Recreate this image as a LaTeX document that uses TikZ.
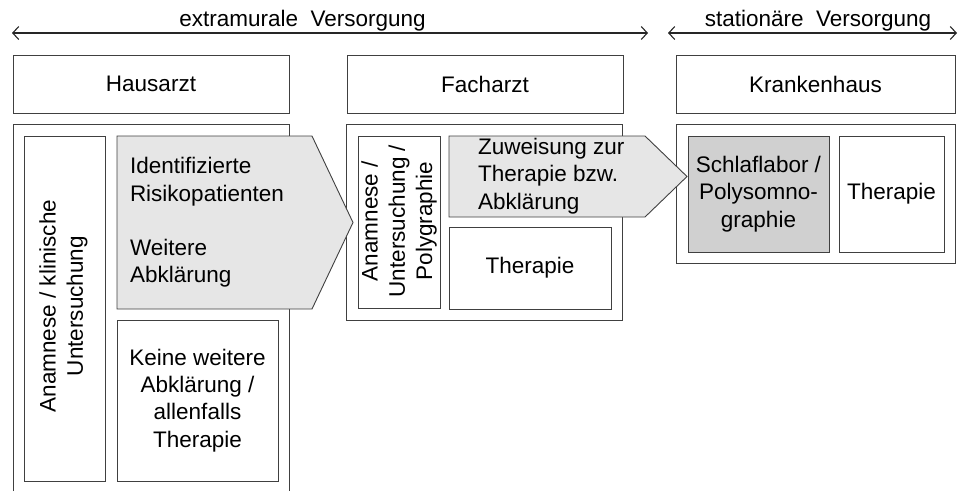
\documentclass[tikz,border=0pt]{standalone}
\usepackage{fontspec}
\setmainfont{Liberation Sans}
\usetikzlibrary{arrows.meta}
\definecolor{linec}{HTML}{404040}
\definecolor{lightg}{HTML}{E6E6E6}
\definecolor{midg}{HTML}{D0D0D0}
\begin{document}
\begin{tikzpicture}[x=1pt,y=-1pt,
  every node/.style={font=\fontsize{22.5}{27.3}\selectfont, inner sep=0pt, outer sep=0pt, text=black},
  box/.style={draw=linec, line width=0.9pt},
  txt/.style={align=center},
  span/.style={draw=black!85, line width=1.1pt, {Straight Barb[length=6pt,width=13pt]}-{Straight Barb[length=6pt,width=13pt]}}
]
\useasboundingbox (0,0) rectangle (962,491);

% top spans
\coordinate (e1) at (12,33);
\coordinate (e2) at (648,33);
\coordinate (s1) at (668,33);
\coordinate (s2) at (957,33);
\draw[span] (e1) -- (e2);
\draw[span] (s1) -- (s2);
\node[anchor=base] (extra) at (302.5,26.5) {extramurale~~Versorgung};
\node[anchor=base] (stat) at (818,26.5) {stationäre~~Versorgung};

% header boxes
\node[box, minimum width=276pt, minimum height=58pt] (haus) at (151,84) {Hausarzt};
\node[box, minimum width=276pt, minimum height=58pt] (fach) at (485,84) {Facharzt};
\node[box, minimum width=279pt, minimum height=58pt] (kh) at (815.5,84) {Krankenhaus};

% containers
\draw[box] (13,491) -- (13,124) -- (289,124) -- (289,491);
\node[box, minimum width=276pt, minimum height=196pt] (fcont) at (484,222) {};
\node[box, minimum width=279pt, minimum height=139pt] (kcont) at (815.5,193.5) {};

% Hausarzt inner
\node[box, minimum width=81pt, minimum height=345pt] (hanam) at (64.5,308.5) {};
\node[txt, rotate=90] (hanamt) at (63.5,306) {Anamnese / klinische\\Untersuchung};
\node[box, txt, minimum width=161pt, minimum height=161pt] (keine) at (197.5,400.5) {Keine weitere\\Abklärung /\\allenfalls\\Therapie};

% Facharzt inner
\node[box, minimum width=82pt, minimum height=172pt] (fanam) at (399,222) {};
\node[txt, rotate=90] (fanamt) at (399,221) {Anamnese /\\Untersuchung /\\Polygraphie};
\node[box, txt, minimum width=162pt, minimum height=82pt] (fther) at (530,268) {Therapie};

% Krankenhaus inner
\node[box, txt, fill=midg, minimum width=141pt, minimum height=116pt] (schlaf) at (758.5,194) {Schlaflabor /\\Polysomno-\\graphie};
\node[box, txt, minimum width=105pt, minimum height=116pt] (kther) at (891.5,194) {Therapie};

% gray arrows
\draw[box, fill=lightg] (117,136) -- (312,136) -- (353,222.5) -- (312,309) -- (117,309) -- cycle;
\node[align=left, anchor=west] (risk) at (130,222.5) {Identifizierte\\Risikopatienten\\[27.3pt]Weitere\\Abklärung};
\draw[box, fill=lightg] (449,136) -- (645,136) -- (687,176.5) -- (645,217) -- (449,217) -- cycle;
\node[align=left, anchor=west] (zuw) at (478,176) {Zuweisung zur\\Therapie bzw.\\Abklärung};
\end{tikzpicture}
\end{document}
